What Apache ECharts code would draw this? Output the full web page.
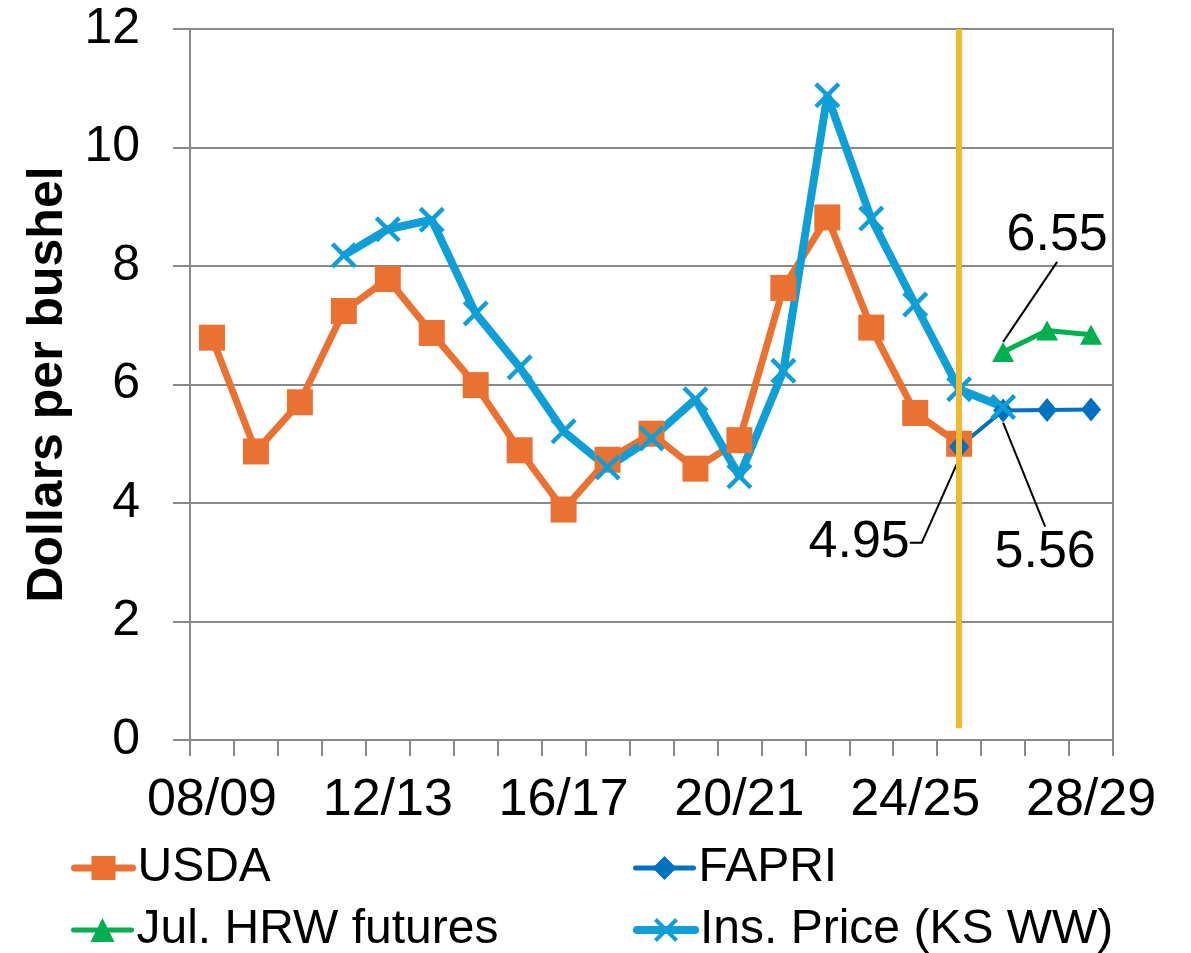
<!DOCTYPE html>
<html>
<head>
<meta charset="utf-8">
<script src="https://cdn.jsdelivr.net/npm/echarts@6/dist/echarts.min.js"></script>
<style>
    html, body { margin: 0; padding: 0; background: #fff; }
    #main { width: 1191px; height: 953px; }
</style>
</head>
<body>
<div id="main"></div>
<script>
    const categories = ['08/09', '09/10', '10/11', '11/12', '12/13', '13/14', '14/15', '15/16', '16/17', '17/18', '18/19',
        '19/20', '20/21', '21/22', '22/23', '23/24', '24/25', '25/26', '26/27', '27/28', '28/29'];
    const usda = [6.79, 4.87, 5.70, 7.24, 7.78, 6.87, 5.99, 4.89, 3.89, 4.73, 5.17, 4.58, 5.06, 7.63, 8.82, 6.96, 5.52, 5.00, null, null, null];
    const fapri = [null, null, null, null, null, null, null, null, null, null, null, null, null, null, null, null, null, 4.95, 5.56, 5.57, 5.58];
    const hrwFutures = [null, null, null, null, null, null, null, null, null, null, null, null, null, null, null, null, null, null, 6.55, 6.91, 6.84];
    const insPrice = [null, null, null, 8.18, 8.62, 8.78, 7.20, 6.29, 5.21, 4.60, 5.09, 5.75, 4.45, 6.23, 10.88, 8.80, 7.35, 5.92, 5.62, null, null];
    const yTicks = [0, 2, 4, 6, 8, 10, 12];
    // current marketing year divider
    const dividerYear = '25/26';
    const dividerSpan = [0.2, 12];
    // which points carry a value callout
    const fapriCallouts = [17, 18];
    const hrwCallouts = [18];

    const font = 'Liberation Sans';
    const gray = '#898989';
    const xMark = 'path://M0,1.2L1.2,0L10,8.8L8.8,10Z M8.8,0L10,1.2L1.2,10L0,8.8Z';

    let chart = echarts.init(document.getElementById('main'));

    function withCallouts(values, idx) {
        return values.map(function (v, i) {
            if (idx.indexOf(i) < 0) return v;
            return {
                value: v,
                label: {
                    show: true,
                    position: 'inside',
                    formatter: '{c}',
                    color: '#000',
                    fontFamily: font,
                    fontSize: 52
                },
                labelLine: {
                    show: true,
                    length2: i === 17 ? 12 : 0,
                    lineStyle: { color: '#000', width: 2 }
                }
            };
        });
    }

    function legendItem(name, left, top, lineWidth) {
        return {
            left: left,
            top: top,
            itemWidth: 58,
            itemHeight: 30,
            textStyle: { fontSize: 48, color: '#000', fontFamily: font },
            lineStyle: { width: lineWidth, cap: 'round' },
            data: [name]
        };
    }

    let option = {
        animation: false,
        textStyle: { fontFamily: font },
        grid: {
            left: 190,
            right: 78,
            top: 29,
            bottom: 213,
            show: true,
            borderColor: gray,
            borderWidth: 2
        },
        legend: [
            legendItem('USDA', 66, 839, 7),
            legendItem('Jul. HRW futures', 66, 901, 5),
            legendItem('FAPRI', 628, 839, 5),
            legendItem('Ins. Price (KS WW)', 628, 901, 8)
        ],
        xAxis: {
            type: 'category',
            data: categories,
            boundaryGap: true,
            axisLine: { lineStyle: { color: gray, width: 2 } },
            axisTick: { show: true, interval: 0, length: 16, lineStyle: { color: gray, width: 2 } },
            axisLabel: { interval: 3, margin: 35, fontSize: 52, color: '#000', fontFamily: font }
        },
        yAxis: {
            type: 'value',
            min: yTicks[0],
            max: yTicks[yTicks.length - 1],
            interval: yTicks[1] - yTicks[0],
            name: 'Dollars per bushel',
            nameLocation: 'middle',
            nameGap: 116,
            nameTextStyle: { fontSize: 50, fontWeight: 'bold', color: '#000', fontFamily: font },
            axisLine: { show: true, lineStyle: { color: gray, width: 2 } },
            axisTick: { show: true, length: 17, lineStyle: { color: gray, width: 2 } },
            axisLabel: { margin: 50, fontSize: 50, color: '#000', fontFamily: font },
            splitLine: { lineStyle: { color: gray, width: 2 } }
        },
        series: [
            {
                name: 'USDA',
                type: 'line',
                data: usda,
                symbol: 'rect',
                symbolSize: 26,
                lineStyle: { color: '#E97132', width: 7 },
                itemStyle: { color: '#E97132' }
            },
            {
                name: 'FAPRI',
                type: 'line',
                data: withCallouts(fapri, fapriCallouts),
                symbol: 'diamond',
                symbolSize: [20, 24],
                lineStyle: { color: '#0070C0', width: 4 },
                itemStyle: { color: '#0070C0' },
                labelLayout: function (params) {
                    if (params.dataIndex === 17) return { dx: -100, dy: 96 };
                    if (params.dataIndex === 18) return { dx: 42, dy: 142 };
                    return {};
                }
            },
            {
                name: 'Jul. HRW futures',
                type: 'line',
                data: withCallouts(hrwFutures, hrwCallouts),
                symbol: 'triangle',
                symbolSize: [22, 20],
                lineStyle: { color: '#00B050', width: 5 },
                itemStyle: { color: '#00B050' },
                labelLayout: function (params) {
                    if (params.dataIndex === 18) return { dx: 54, dy: -116 };
                    return {};
                }
            },
            {
                name: 'Ins. Price (KS WW)',
                type: 'line',
                data: insPrice,
                symbol: xMark,
                symbolSize: 26,
                lineStyle: { color: '#0F9ED5', width: 8 },
                itemStyle: { color: '#0F9ED5' },
                markLine: {
                    silent: true,
                    symbol: 'none',
                    label: { show: false },
                    lineStyle: { color: '#F2B930', width: 6, type: 'solid' },
                    data: [[
                        { coord: [dividerYear, dividerSpan[0]] },
                        { coord: [dividerYear, dividerSpan[1]] }
                    ]]
                }
            }
        ]
    };
    chart.setOption(option);
</script>
</body>
</html>
